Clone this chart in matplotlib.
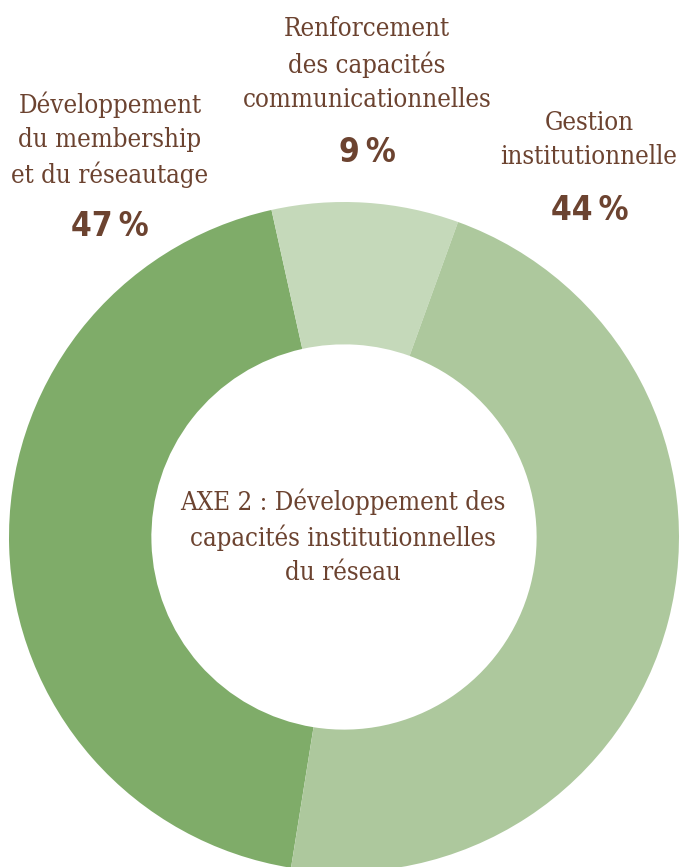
import matplotlib
matplotlib.use("Agg")
import matplotlib.pyplot as plt

# Data
categories = ["Développement\ndu membership\net du réseautage",
              "Renforcement\ndes capacités\ncommunicationnelles",
              "Gestion\ninstitutionnelle"]
wedge_shares = [44, 9, 47]          # shares as drawn in the picture
percent_labels = ["47\u2009%", "9\u2009%", "44\u2009%"]
center_title = "AXE 2 : Développement des\ncapacités institutionnelles\ndu réseau"
colors = ["#7fac69", "#c5d9ba", "#adc89d"]

W, H = 682, 867
TXT = "#6c4330"

fig = plt.figure(figsize=(W / 100, H / 100), dpi=100)
ax = fig.add_axes([0, 0, 1, 1])

cx, cy, R = 344, H - 537, 335
ax.pie(wedge_shares, colors=colors, startangle=-99.1, counterclock=False,
       center=(cx, cy), radius=R, frame=True,
       wedgeprops=dict(width=R * 0.425, linewidth=0))
ax.set_xlim(0, W)
ax.set_ylim(0, H)
ax.set_aspect("equal")
ax.axis("off")

serif = dict(family="DejaVu Serif", fontstretch="condensed", fontsize=18.5,
             color=TXT, ha="center", va="center", linespacing=1.45)
pct = dict(family="DejaVu Sans", fontstretch="condensed", fontweight="bold",
           fontsize=24, color=TXT, ha="center", va="center")

label_pos = [(110, 140), (367, 64), (589, 139)]
pct_pos = [(110, 227), (367, 153), (590, 210)]
for lab, (x, y) in zip(categories, label_pos):
    ax.text(x, H - y, lab, **serif)
for p, (x, y) in zip(percent_labels, pct_pos):
    ax.text(x, H - y, p, **pct)

ax.text(343, H - 537, center_title, **serif)

fig.savefig("out.png", dpi=100)
